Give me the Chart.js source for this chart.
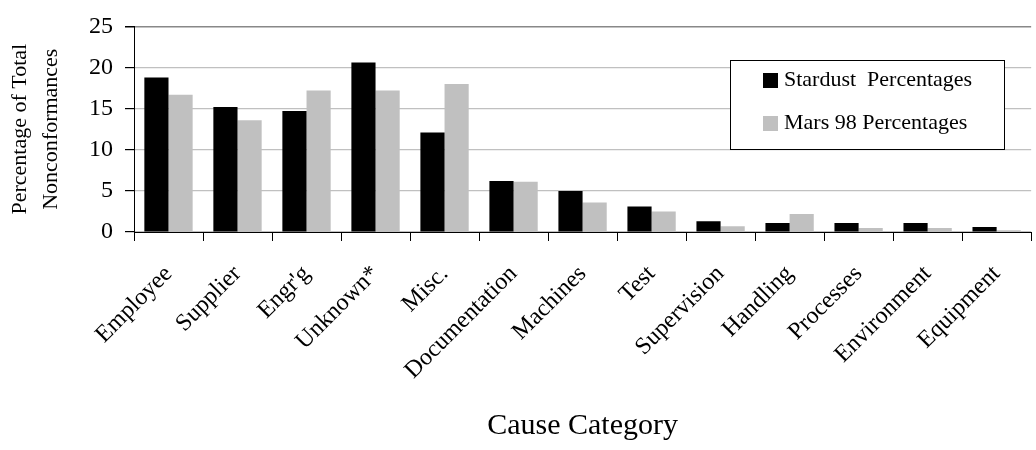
<!DOCTYPE html>
<html>
<head>
<meta charset="utf-8">
<script src="https://cdn.jsdelivr.net/npm/chart.js@4"></script>
<style>
  html, body { margin: 0; padding: 0; background: #fff; }
  canvas { display: block; }
</style>
</head>
<body>
<canvas id="chart" width="1036" height="450"></canvas>
<script>
// nonconformance shares by cause, percent of total
const categories = [
  "Employee", "Supplier", "Engr'g", "Unknown*", "Misc.", "Documentation",
  "Machines", "Test", "Supervision", "Handling", "Processes", "Environment",
  "Equipment",
];
const stardustPct = [18.8, 15.2, 14.7, 20.6, 12.1, 6.2, 5.0, 3.1, 1.3, 1.1, 1.1, 1.1, 0.6];
const mars98Pct = [16.7, 13.6, 17.2, 17.2, 18.0, 6.1, 3.6, 2.5, 0.7, 2.2, 0.5, 0.5, 0.2];
const yMax = 25;
const yStep = 5;

const SERIF = '"Liberation Serif", "Times New Roman", serif';

// boxed legend sitting inside the plot, like the original
const boxLegendPlugin = {
  id: "boxLegend",
  afterDraw(chart, args, opts) {
    const { ctx } = chart;
    ctx.save();
    ctx.fillStyle = "#fff";
    ctx.fillRect(opts.left, opts.top, opts.width, opts.height);
    ctx.strokeStyle = "#000";
    ctx.lineWidth = 1;
    ctx.strokeRect(opts.left + 0.5, opts.top + 0.5, opts.width, opts.height);
    ctx.font = `${opts.fontSize}px ${SERIF}`;
    ctx.textBaseline = "middle";
    ctx.textAlign = "left";
    chart.data.datasets.forEach((ds, i) => {
      const cy = opts.firstRow + i * opts.rowGap;
      ctx.fillStyle = ds.backgroundColor;
      ctx.fillRect(opts.swatchX, cy - opts.swatch / 2, opts.swatch, opts.swatch);
      ctx.fillStyle = "#000";
      ctx.fillText(ds.label, opts.textX, cy);
    });
    ctx.restore();
  },
};

new Chart(document.getElementById("chart"), {
  type: "bar",
  data: {
    labels: categories,
    datasets: [
      {
        label: "Stardust  Percentages",
        data: stardustPct,
        backgroundColor: "#000000",
        borderWidth: 0,
        categoryPercentage: 0.7,
        barPercentage: 1,
      },
      {
        label: "Mars 98 Percentages",
        data: mars98Pct,
        backgroundColor: "#c0c0c0",
        borderWidth: 0,
        categoryPercentage: 0.7,
        barPercentage: 1,
      },
    ],
  },
  plugins: [boxLegendPlugin],
  options: {
    responsive: false,
    animation: false,
    layout: { padding: { top: 17, right: 0, bottom: 0, left: 0 } },
    plugins: {
      legend: { display: false },
      tooltip: { enabled: false },
      boxLegend: {
        left: 730,
        top: 60,
        width: 274,
        height: 89,
        swatchX: 763,
        swatch: 15,
        textX: 784,
        firstRow: 80.5,
        rowGap: 43,
        fontSize: 22,
      },
    },
    scales: {
      x: {
        offset: true,
        border: { display: true, color: "#000", width: 1 },
        grid: {
          offset: true,
          drawOnChartArea: false,
          drawTicks: true,
          tickLength: 9,
          tickColor: "#000",
        },
        ticks: {
          color: "#000",
          font: { family: SERIF, size: 24 },
          maxRotation: 45,
          minRotation: 45,
          autoSkip: false,
          padding: 19,
        },
        title: {
          display: true,
          text: "Cause Category",
          color: "#000",
          font: { family: SERIF, size: 30 },
          padding: { top: 0, bottom: 6 },
        },
        afterFit(scale) {
          scale.height = 218;
        },
      },
      y: {
        min: 0,
        max: yMax,
        border: { display: true, color: "#000", width: 1 },
        grid: {
          color: (c) => (c.tick && c.tick.value === yMax ? "#888888" : "#c0c0c0"),
          lineWidth: (c) => (c.tick && c.tick.value === yMax ? 1.5 : 1.2),
          drawTicks: true,
          tickLength: 9,
          tickColor: "#000",
        },
        ticks: {
          stepSize: yStep,
          color: "#000",
          font: { family: SERIF, size: 24 },
          padding: 12,
        },
        title: {
          display: true,
          text: ["Percentage of Total", "Nonconformances"],
          color: "#000",
          font: { family: SERIF, size: 22, lineHeight: 1.4 },
          padding: { top: 5, bottom: 0 },
        },
        afterFit(scale) {
          scale.width = 134;
        },
      },
    },
  },
});
</script>
</body>
</html>
